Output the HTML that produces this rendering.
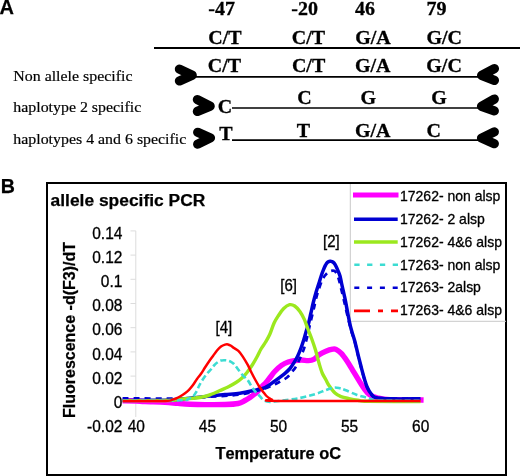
<!DOCTYPE html>
<html><head><meta charset="utf-8"><style>
html,body{margin:0;padding:0;background:#fff;width:520px;height:476px;overflow:hidden}
svg{display:block;filter:blur(0.35px)}
text{fill:#000;font-kerning:none}
.h{stroke:#000;stroke-width:0.3px}
.hb{stroke:#000;stroke-width:0.3px}
.hs{stroke:#000;stroke-width:0.2px}
.hB{stroke:#000;stroke-width:0.25px}
</style></head><body>
<svg width="520" height="476" viewBox="0 0 520 476">
<text x="-0.40" y="14.30" font-family="'Liberation Sans', sans-serif" font-weight="bold" font-size="20" class="hB">A</text>
<text transform="translate(208.30,14.80) scale(1,0.960)" font-family="'Liberation Serif', serif" font-weight="bold" font-size="20" class="hb">-47</text>
<text transform="translate(291.30,14.80) scale(1,0.960)" font-family="'Liberation Serif', serif" font-weight="bold" font-size="20" class="hb">-20</text>
<text transform="translate(355.00,14.80) scale(1,0.960)" font-family="'Liberation Serif', serif" font-weight="bold" font-size="20" class="hb">46</text>
<text transform="translate(426.60,14.80) scale(1,0.960)" font-family="'Liberation Serif', serif" font-weight="bold" font-size="20" class="hb">79</text>
<text transform="translate(208.30,43.90) scale(1,0.960)" font-family="'Liberation Serif', serif" font-weight="bold" font-size="20" class="hb">C/T</text>
<text transform="translate(291.80,43.90) scale(1,0.960)" font-family="'Liberation Serif', serif" font-weight="bold" font-size="20" class="hb">C/T</text>
<text transform="translate(355.20,43.90) scale(1,0.960)" font-family="'Liberation Serif', serif" font-weight="bold" font-size="20" class="hb">G/A</text>
<text transform="translate(426.50,43.90) scale(1,0.960)" font-family="'Liberation Serif', serif" font-weight="bold" font-size="20" class="hb">G/C</text>
<text transform="translate(207.80,71.60) scale(1,0.960)" font-family="'Liberation Serif', serif" font-weight="bold" font-size="20" class="hb">C/T</text>
<text transform="translate(291.90,71.60) scale(1,0.960)" font-family="'Liberation Serif', serif" font-weight="bold" font-size="20" class="hb">C/T</text>
<text transform="translate(355.00,71.60) scale(1,0.960)" font-family="'Liberation Serif', serif" font-weight="bold" font-size="20" class="hb">G/A</text>
<text transform="translate(426.30,71.60) scale(1,0.960)" font-family="'Liberation Serif', serif" font-weight="bold" font-size="20" class="hb">G/C</text>
<text transform="translate(297.20,104.10) scale(1,0.960)" font-family="'Liberation Serif', serif" font-weight="bold" font-size="20" class="hb">C</text>
<text transform="translate(360.50,104.10) scale(1,0.960)" font-family="'Liberation Serif', serif" font-weight="bold" font-size="20" class="hb">G</text>
<text transform="translate(431.30,104.10) scale(1,0.960)" font-family="'Liberation Serif', serif" font-weight="bold" font-size="20" class="hb">G</text>
<text transform="translate(296.70,137.20) scale(1,0.960)" font-family="'Liberation Serif', serif" font-weight="bold" font-size="20" class="hb">T</text>
<text transform="translate(355.00,137.20) scale(1,0.960)" font-family="'Liberation Serif', serif" font-weight="bold" font-size="20" class="hb">G/A</text>
<text transform="translate(426.50,137.20) scale(1,0.960)" font-family="'Liberation Serif', serif" font-weight="bold" font-size="20" class="hb">C</text>
<text transform="translate(217.70,113.40) scale(1,0.960)" font-family="'Liberation Serif', serif" font-weight="bold" font-size="20" class="hb">C</text>
<text transform="translate(219.20,140.20) scale(1,0.960)" font-family="'Liberation Serif', serif" font-weight="bold" font-size="20" class="hb">T</text>
<text transform="translate(13.30,80.60) scale(1,0.950)" font-family="'Liberation Serif', serif" font-size="15.9" class="hs">Non allele specific</text>
<text transform="translate(13.30,112.30) scale(1,0.950)" font-family="'Liberation Serif', serif" font-size="15.9" class="hs">haplotype 2 specific</text>
<text transform="translate(13.30,143.60) scale(1,0.950)" font-family="'Liberation Serif', serif" font-size="15.9" class="hs">haplotypes 4 and 6 specific</text>
<line x1="154" y1="48" x2="520" y2="48" stroke="#000" stroke-width="1.8"/>
<line x1="195" y1="76.9" x2="478" y2="76.9" stroke="#000" stroke-width="1.7"/>
<line x1="232" y1="108.0" x2="478" y2="108.0" stroke="#000" stroke-width="1.7"/>
<line x1="232" y1="140.1" x2="478" y2="140.1" stroke="#000" stroke-width="1.7"/>
<polyline points="179.45,69.10 192.20,75.20 179.45,80.90" fill="none" stroke="#000" stroke-width="9.30" stroke-linecap="round" stroke-linejoin="round"/>
<polyline points="494.40,68.60 481.65,75.40 494.40,80.40" fill="none" stroke="#000" stroke-width="9.30" stroke-linecap="round" stroke-linejoin="round"/>
<polyline points="197.40,99.60 210.15,106.10 197.40,111.40" fill="none" stroke="#000" stroke-width="9.30" stroke-linecap="round" stroke-linejoin="round"/>
<polyline points="494.30,99.10 481.55,106.30 494.30,110.90" fill="none" stroke="#000" stroke-width="9.30" stroke-linecap="round" stroke-linejoin="round"/>
<polyline points="197.70,132.35 210.45,137.90 197.70,144.15" fill="none" stroke="#000" stroke-width="9.30" stroke-linecap="round" stroke-linejoin="round"/>
<polyline points="494.30,131.90 481.55,138.10 494.30,143.70" fill="none" stroke="#000" stroke-width="9.30" stroke-linecap="round" stroke-linejoin="round"/>
<text x="0.80" y="192.90" font-family="'Liberation Sans', sans-serif" font-weight="bold" font-size="19.6" class="hB">B</text>
<rect x="47" y="183" width="459" height="292" fill="none" stroke="#000" stroke-width="2"/>
<text x="50.60" y="205.90" font-family="'Liberation Sans', sans-serif" font-weight="bold" font-size="17.4" class="hB">allele specific PCR</text>
<line x1="350.3" y1="184" x2="350.3" y2="321.3" stroke="#c8c8c8" stroke-width="1"/>
<line x1="350.3" y1="321.3" x2="506" y2="321.3" stroke="#c8c8c8" stroke-width="1"/>
<line x1="135.8" y1="230.9" x2="135.8" y2="417" stroke="#dcdcdc" stroke-width="1"/>
<line x1="130.5" y1="230.9" x2="135.8" y2="230.9" stroke="#dcdcdc" stroke-width="1"/>
<line x1="130.5" y1="255.1" x2="135.8" y2="255.1" stroke="#dcdcdc" stroke-width="1"/>
<line x1="130.5" y1="279.3" x2="135.8" y2="279.3" stroke="#dcdcdc" stroke-width="1"/>
<line x1="130.5" y1="303.5" x2="135.8" y2="303.5" stroke="#dcdcdc" stroke-width="1"/>
<line x1="130.5" y1="327.7" x2="135.8" y2="327.7" stroke="#dcdcdc" stroke-width="1"/>
<line x1="130.5" y1="351.9" x2="135.8" y2="351.9" stroke="#dcdcdc" stroke-width="1"/>
<line x1="130.5" y1="376.1" x2="135.8" y2="376.1" stroke="#dcdcdc" stroke-width="1"/>
<line x1="130.5" y1="400.3" x2="135.8" y2="400.3" stroke="#dcdcdc" stroke-width="1"/>
<text transform="translate(122.40,238.60) scale(1,1.100)" font-family="'Liberation Sans', sans-serif" font-size="15.5" class="h" text-anchor="end">0.14</text>
<text transform="translate(122.40,262.80) scale(1,1.100)" font-family="'Liberation Sans', sans-serif" font-size="15.5" class="h" text-anchor="end">0.12</text>
<text transform="translate(122.40,287.00) scale(1,1.100)" font-family="'Liberation Sans', sans-serif" font-size="15.5" class="h" text-anchor="end">0.1</text>
<text transform="translate(122.40,311.20) scale(1,1.100)" font-family="'Liberation Sans', sans-serif" font-size="15.5" class="h" text-anchor="end">0.08</text>
<text transform="translate(122.40,335.40) scale(1,1.100)" font-family="'Liberation Sans', sans-serif" font-size="15.5" class="h" text-anchor="end">0.06</text>
<text transform="translate(122.40,359.60) scale(1,1.100)" font-family="'Liberation Sans', sans-serif" font-size="15.5" class="h" text-anchor="end">0.04</text>
<text transform="translate(122.40,383.80) scale(1,1.100)" font-family="'Liberation Sans', sans-serif" font-size="15.5" class="h" text-anchor="end">0.02</text>
<text transform="translate(122.40,408.00) scale(1,1.100)" font-family="'Liberation Sans', sans-serif" font-size="15.5" class="h" text-anchor="end">0</text>
<text transform="translate(122.40,431.70) scale(1,1.100)" font-family="'Liberation Sans', sans-serif" font-size="15.5" class="h" text-anchor="end">-0.02</text>
<text transform="translate(136.30,431.70) scale(1,1.100)" font-family="'Liberation Sans', sans-serif" font-size="15.5" class="h" text-anchor="middle">40</text>
<text transform="translate(207.40,431.70) scale(1,1.100)" font-family="'Liberation Sans', sans-serif" font-size="15.5" class="h" text-anchor="middle">45</text>
<text transform="translate(278.50,431.70) scale(1,1.100)" font-family="'Liberation Sans', sans-serif" font-size="15.5" class="h" text-anchor="middle">50</text>
<text transform="translate(349.60,431.70) scale(1,1.100)" font-family="'Liberation Sans', sans-serif" font-size="15.5" class="h" text-anchor="middle">55</text>
<text transform="translate(420.70,431.70) scale(1,1.100)" font-family="'Liberation Sans', sans-serif" font-size="15.5" class="h" text-anchor="middle">60</text>
<text x="215.40" y="459.40" font-family="'Liberation Sans', sans-serif" font-weight="bold" font-size="16.4" class="hB">Temperature oC</text>
<text transform="translate(74.7,418) rotate(-90)" x="0" y="0" font-family="'Liberation Sans', sans-serif" font-weight="bold" font-size="16" class="hB">Fluorescence -d(F3)/dT</text>
<text transform="translate(215.60,333.30) scale(1,1.070)" font-family="'Liberation Sans', sans-serif" font-size="15" class="h">[4]</text>
<text transform="translate(280.30,291.30) scale(1,1.070)" font-family="'Liberation Sans', sans-serif" font-size="15" class="h">[6]</text>
<text transform="translate(323.00,246.80) scale(1,1.070)" font-family="'Liberation Sans', sans-serif" font-size="15" class="h">[2]</text>
<path d="M122.60 400.80 C124.83 400.83 132.27 400.87 136.00 401.00 C139.73 401.13 140.17 401.38 145.00 401.60 C149.83 401.82 159.50 402.00 165.00 402.30 C170.50 402.60 173.83 403.08 178.00 403.40 C182.17 403.72 185.50 404.00 190.00 404.20 C194.50 404.40 199.17 404.55 205.00 404.60 C210.83 404.65 219.50 404.68 225.00 404.50 C230.50 404.32 234.67 404.17 238.00 403.50 C241.33 402.83 243.00 401.50 245.00 400.50 C247.00 399.50 248.50 398.50 250.00 397.50 C251.50 396.50 252.67 395.58 254.00 394.50 C255.33 393.42 256.67 392.33 258.00 391.00 C259.33 389.67 260.67 387.92 262.00 386.50 C263.33 385.08 264.67 384.00 266.00 382.50 C267.33 381.00 268.55 379.33 270.00 377.50 C271.45 375.67 272.78 373.52 274.70 371.50 C276.62 369.48 279.25 366.98 281.50 365.40 C283.75 363.82 285.95 362.80 288.20 362.00 C290.45 361.20 292.77 360.93 295.00 360.60 C297.23 360.27 299.37 360.00 301.60 360.00 C303.83 360.00 306.37 360.72 308.40 360.60 C310.43 360.48 312.02 360.27 313.80 359.30 C315.58 358.33 317.08 356.15 319.10 354.80 C321.12 353.45 323.65 352.13 325.90 351.20 C328.15 350.27 330.92 349.50 332.60 349.20 C334.28 348.90 334.55 348.70 336.00 349.40 C337.45 350.10 339.47 351.47 341.30 353.40 C343.13 355.33 345.10 358.18 347.00 361.00 C348.90 363.82 350.80 367.20 352.70 370.30 C354.60 373.40 356.52 376.58 358.40 379.60 C360.28 382.62 362.12 385.87 364.00 388.40 C365.88 390.93 367.48 393.23 369.70 394.80 C371.92 396.37 373.92 397.00 377.30 397.80 C380.68 398.60 382.28 399.23 390.00 399.60 C397.72 399.97 418.00 399.93 423.60 400.00" fill="none" stroke="#ff00ff" stroke-width="5.4" stroke-linejoin="round"/>
<path d="M122.60 400.40 C129.67 400.37 155.43 400.37 165.00 400.20 C174.57 400.03 175.50 399.77 180.00 399.40 C184.50 399.03 187.00 398.57 192.00 398.00 C197.00 397.43 204.50 396.57 210.00 396.00 C215.50 395.43 220.00 395.07 225.00 394.60 C230.00 394.13 235.17 393.90 240.00 393.20 C244.83 392.50 249.83 391.33 254.00 390.40 C258.17 389.47 261.50 389.20 265.00 387.60 C268.50 386.00 271.67 383.18 275.00 380.80 C278.33 378.42 282.50 375.35 285.00 373.30 C287.50 371.25 288.50 370.27 290.00 368.50 C291.50 366.73 292.73 364.75 294.00 362.70 C295.27 360.65 296.43 358.65 297.60 356.20 C298.77 353.75 299.98 350.70 301.00 348.00 C302.02 345.30 302.87 342.67 303.70 340.00 C304.53 337.33 305.23 334.58 306.00 332.00 C306.77 329.42 307.50 327.58 308.30 324.50 C309.10 321.42 309.97 317.17 310.80 313.50 C311.63 309.83 312.43 306.00 313.30 302.50 C314.17 299.00 315.05 295.75 316.00 292.50 C316.95 289.25 318.08 285.92 319.00 283.00 C319.92 280.08 320.73 277.27 321.50 275.00 C322.27 272.73 322.93 271.03 323.60 269.40 C324.27 267.77 324.87 266.37 325.50 265.20 C326.13 264.03 326.62 263.07 327.40 262.40 C328.18 261.73 329.43 261.33 330.20 261.20 C330.97 261.07 331.37 261.30 332.00 261.60 C332.63 261.90 333.33 262.23 334.00 263.00 C334.67 263.77 335.37 264.98 336.00 266.20 C336.63 267.42 337.13 268.67 337.80 270.30 C338.47 271.93 339.37 273.80 340.00 276.00 C340.63 278.20 341.02 280.83 341.60 283.50 C342.18 286.17 342.87 289.17 343.50 292.00 C344.13 294.83 344.62 296.57 345.40 300.50 C346.18 304.43 347.27 310.93 348.20 315.60 C349.13 320.27 349.93 324.35 351.00 328.50 C352.07 332.65 353.43 336.17 354.60 340.50 C355.77 344.83 356.88 350.00 358.00 354.50 C359.12 359.00 360.25 363.50 361.30 367.50 C362.35 371.50 363.32 375.22 364.30 378.50 C365.28 381.78 366.10 384.70 367.20 387.20 C368.30 389.70 369.55 391.80 370.90 393.50 C372.25 395.20 372.12 396.52 375.30 397.40 C378.48 398.28 382.47 398.57 390.00 398.80 C397.53 399.03 415.42 398.80 420.50 398.80" fill="none" stroke="#0000d2" stroke-width="3.5" stroke-linejoin="round"/>
<path d="M122.60 398.30 C132.17 398.33 165.43 398.75 180.00 398.50 C194.57 398.25 200.00 397.47 210.00 396.80 C220.00 396.13 231.67 395.63 240.00 394.50 C248.33 393.37 255.00 391.33 260.00 390.00 C265.00 388.67 267.50 387.45 270.00 386.50 C272.50 385.55 273.17 385.22 275.00 384.30 C276.83 383.38 279.00 382.13 281.00 381.00 C283.00 379.87 285.25 378.92 287.00 377.50 C288.75 376.08 290.07 374.22 291.50 372.50 C292.93 370.78 294.43 369.03 295.60 367.20 C296.77 365.37 297.60 363.37 298.50 361.50 C299.40 359.63 300.17 357.92 301.00 356.00 C301.83 354.08 302.73 352.17 303.50 350.00 C304.27 347.83 304.93 345.42 305.60 343.00 C306.27 340.58 306.73 338.75 307.50 335.50 C308.27 332.25 309.20 327.75 310.20 323.50 C311.20 319.25 312.45 314.42 313.50 310.00 C314.55 305.58 315.50 300.78 316.50 297.00 C317.50 293.22 318.58 290.05 319.50 287.30 C320.42 284.55 321.15 282.38 322.00 280.50 C322.85 278.62 323.60 277.37 324.60 276.00 C325.60 274.63 326.93 273.15 328.00 272.30 C329.07 271.45 330.00 271.15 331.00 270.90 C332.00 270.65 333.08 270.42 334.00 270.80 C334.92 271.18 335.73 271.92 336.50 273.20 C337.27 274.48 337.88 276.15 338.60 278.50 C339.32 280.85 339.83 283.32 340.80 287.30 C341.77 291.28 343.20 297.28 344.40 302.40 C345.60 307.52 346.90 313.40 348.00 318.00 C349.10 322.60 349.90 326.17 351.00 330.00 C352.10 333.83 353.40 336.67 354.60 341.00 C355.80 345.33 357.05 351.33 358.20 356.00 C359.35 360.67 360.45 365.08 361.50 369.00 C362.55 372.92 363.50 376.33 364.50 379.50 C365.50 382.67 366.42 385.58 367.50 388.00 C368.58 390.42 369.37 392.25 371.00 394.00 C372.63 395.75 374.13 397.73 377.30 398.50 C380.47 399.27 382.80 398.58 390.00 398.60 C397.20 398.62 415.42 398.60 420.50 398.60" fill="none" stroke="#0000d2" stroke-width="2.7" stroke-linejoin="round" stroke-dasharray="6 5"/>
<path d="M122.60 400.60 C130.17 400.58 158.43 400.72 168.00 400.50 C177.57 400.28 175.50 399.72 180.00 399.30 C184.50 398.88 190.83 398.47 195.00 398.00 C199.17 397.53 202.17 397.17 205.00 396.50 C207.83 395.83 209.50 395.00 212.00 394.00 C214.50 393.00 217.33 391.67 220.00 390.50 C222.67 389.33 225.33 388.33 228.00 387.00 C230.67 385.67 233.67 384.00 236.00 382.50 C238.33 381.00 240.17 379.67 242.00 378.00 C243.83 376.33 245.23 374.75 247.00 372.50 C248.77 370.25 250.90 367.17 252.60 364.50 C254.30 361.83 255.80 359.08 257.20 356.50 C258.60 353.92 259.65 351.33 261.00 349.00 C262.35 346.67 263.85 344.92 265.30 342.50 C266.75 340.08 268.23 337.75 269.70 334.50 C271.17 331.25 272.63 326.17 274.10 323.00 C275.57 319.83 276.90 317.92 278.50 315.50 C280.10 313.08 281.85 310.30 283.70 308.50 C285.55 306.70 287.77 305.12 289.60 304.70 C291.43 304.28 292.98 304.87 294.70 306.00 C296.42 307.13 298.30 309.27 299.90 311.50 C301.50 313.73 302.97 316.48 304.30 319.40 C305.63 322.32 306.68 325.82 307.90 329.00 C309.12 332.18 310.33 335.00 311.60 338.50 C312.87 342.00 314.27 345.92 315.50 350.00 C316.73 354.08 317.88 359.17 319.00 363.00 C320.12 366.83 321.03 370.17 322.20 373.00 C323.37 375.83 324.87 377.92 326.00 380.00 C327.13 382.08 327.50 383.33 329.00 385.50 C330.50 387.67 333.00 391.15 335.00 393.00 C337.00 394.85 338.67 395.67 341.00 396.60 C343.33 397.53 346.17 398.00 349.00 398.60 C351.83 399.20 354.83 399.77 358.00 400.20 C361.17 400.63 357.58 400.97 368.00 401.20 C378.42 401.43 411.75 401.53 420.50 401.60" fill="none" stroke="#9be81e" stroke-width="3.4" stroke-linejoin="round"/>
<path d="M122.60 400.60 C132.17 400.55 169.10 400.57 180.00 400.30 C190.90 400.03 185.83 399.63 188.00 399.00 C190.17 398.37 191.58 397.75 193.00 396.50 C194.42 395.25 195.50 393.25 196.50 391.50 C197.50 389.75 198.17 387.67 199.00 386.00 C199.83 384.33 200.47 383.17 201.50 381.50 C202.53 379.83 204.12 377.50 205.20 376.00 C206.28 374.50 206.98 373.67 208.00 372.50 C209.02 371.33 210.30 370.17 211.30 369.00 C212.30 367.83 212.95 366.62 214.00 365.50 C215.05 364.38 216.43 363.12 217.60 362.30 C218.77 361.48 219.93 360.95 221.00 360.60 C222.07 360.25 223.00 360.23 224.00 360.20 C225.00 360.17 225.97 360.20 227.00 360.40 C228.03 360.60 229.03 360.80 230.20 361.40 C231.37 362.00 232.73 362.73 234.00 364.00 C235.27 365.27 236.33 367.12 237.80 369.00 C239.27 370.88 241.12 373.40 242.80 375.30 C244.48 377.20 246.42 378.50 247.90 380.40 C249.38 382.30 250.45 384.82 251.70 386.70 C252.95 388.58 254.15 390.23 255.40 391.70 C256.65 393.17 257.77 394.03 259.20 395.50 C260.63 396.97 262.20 399.42 264.00 400.50 C265.80 401.58 267.58 401.92 270.00 402.00 C272.42 402.08 273.72 401.63 278.50 401.00 C283.28 400.37 292.53 399.37 298.70 398.20 C304.87 397.03 310.95 395.37 315.50 394.00 C320.05 392.63 322.92 391.08 326.00 390.00 C329.08 388.92 331.67 387.78 334.00 387.50 C336.33 387.22 338.15 387.88 340.00 388.30 C341.85 388.72 342.35 388.93 345.10 390.00 C347.85 391.07 353.03 393.45 356.50 394.70 C359.97 395.95 363.32 396.68 365.90 397.50 C368.48 398.32 369.65 399.05 372.00 399.60 C374.35 400.15 371.92 400.58 380.00 400.80 C388.08 401.02 413.75 400.88 420.50 400.90" fill="none" stroke="#3cdcd2" stroke-width="2.6" stroke-linejoin="round" stroke-dasharray="6 3"/>
<path d="M122.60 401.10 C129.67 401.07 156.77 401.10 165.00 400.90 C173.23 400.70 170.17 400.30 172.00 399.90 C173.83 399.50 174.67 399.07 176.00 398.50 C177.33 397.93 178.50 397.37 180.00 396.50 C181.50 395.63 183.50 394.42 185.00 393.30 C186.50 392.18 187.67 391.18 189.00 389.80 C190.33 388.42 191.67 386.80 193.00 385.00 C194.33 383.20 195.67 380.87 197.00 379.00 C198.33 377.13 199.67 375.72 201.00 373.80 C202.33 371.88 203.67 369.55 205.00 367.50 C206.33 365.45 207.67 363.42 209.00 361.50 C210.33 359.58 211.67 357.83 213.00 356.00 C214.33 354.17 215.67 352.08 217.00 350.50 C218.33 348.92 219.67 347.48 221.00 346.50 C222.33 345.52 223.83 344.95 225.00 344.60 C226.17 344.25 227.00 344.20 228.00 344.40 C229.00 344.60 230.00 345.20 231.00 345.80 C232.00 346.40 232.77 347.15 234.00 348.00 C235.23 348.85 236.93 349.47 238.40 350.90 C239.87 352.33 241.22 354.22 242.80 356.60 C244.38 358.98 246.42 362.47 247.90 365.20 C249.38 367.93 250.45 370.53 251.70 373.00 C252.95 375.47 254.15 377.75 255.40 380.00 C256.65 382.25 257.93 384.55 259.20 386.50 C260.47 388.45 261.87 390.20 263.00 391.70 C264.13 393.20 265.00 394.45 266.00 395.50 C267.00 396.55 268.00 397.32 269.00 398.00 C270.00 398.68 270.42 399.12 272.00 399.60 C273.58 400.08 253.75 400.65 278.50 400.90 C303.25 401.15 396.83 401.07 420.50 401.10" fill="none" stroke="#ff0000" stroke-width="2.5" stroke-linejoin="round"/>
<line x1="353" y1="195.1" x2="398.5" y2="195.1" stroke="#ff00ff" stroke-width="5"/>
<line x1="354" y1="219.3" x2="397.7" y2="219.3" stroke="#0000d2" stroke-width="3.5"/>
<line x1="354" y1="242.0" x2="397.7" y2="242.0" stroke="#9be81e" stroke-width="3.4"/>
<line x1="354.3" y1="264.7" x2="398" y2="264.7" stroke="#3cdcd2" stroke-width="2.5" stroke-dasharray="5.3 7.5"/>
<line x1="354.3" y1="287.8" x2="398" y2="287.8" stroke="#0000d2" stroke-width="2.6" stroke-dasharray="5 7.8"/>
<line x1="354" y1="310.9" x2="398" y2="310.9" stroke="#ff0000" stroke-width="2.6" stroke-dasharray="16 8 5 8"/>
<text transform="translate(400.00,200.80) scale(1,1.080)" font-family="'Liberation Sans', sans-serif" font-size="14" class="h">17262- non alsp</text>
<text transform="translate(400.00,223.70) scale(1,1.080)" font-family="'Liberation Sans', sans-serif" font-size="14" class="h">17262- 2 alsp</text>
<text transform="translate(400.00,246.60) scale(1,1.080)" font-family="'Liberation Sans', sans-serif" font-size="14" class="h">17262- 4&amp;6 alsp</text>
<text transform="translate(400.00,269.50) scale(1,1.080)" font-family="'Liberation Sans', sans-serif" font-size="14" class="h">17263- non alsp</text>
<text transform="translate(400.00,292.40) scale(1,1.080)" font-family="'Liberation Sans', sans-serif" font-size="14" class="h">17263- 2alsp</text>
<text transform="translate(400.00,315.30) scale(1,1.080)" font-family="'Liberation Sans', sans-serif" font-size="14" class="h">17263- 4&amp;6 alsp</text>
</svg>
</body></html>
